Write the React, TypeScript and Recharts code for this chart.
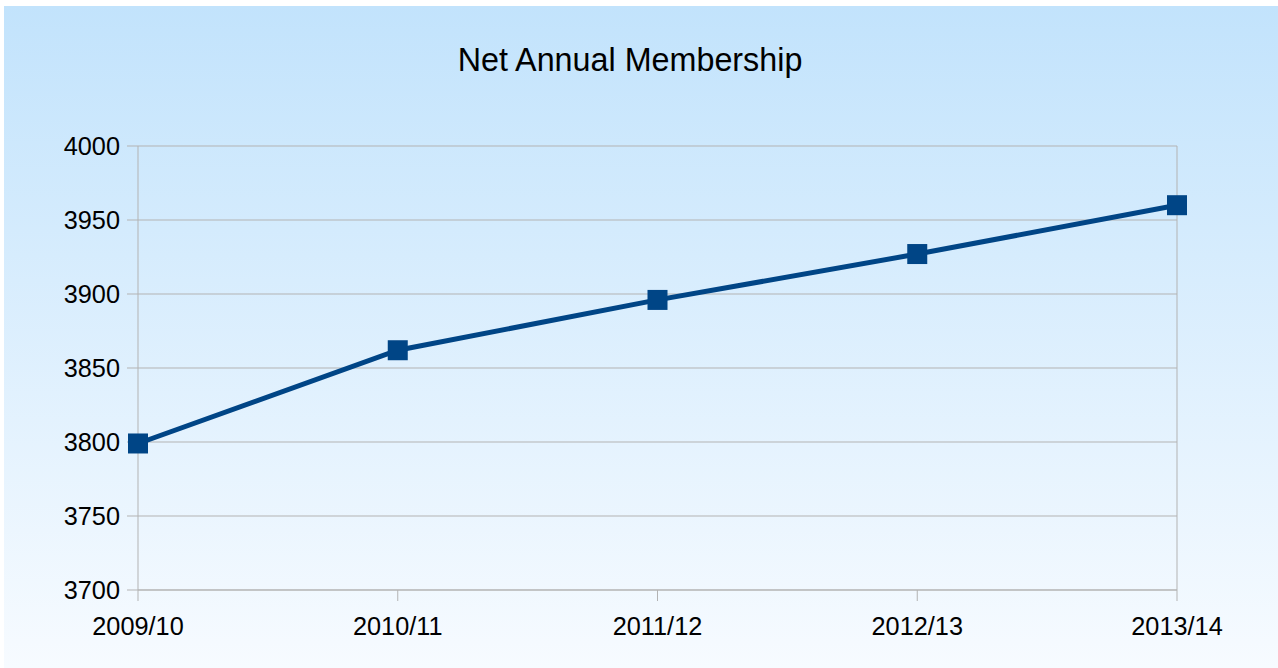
import React from 'react';
import { LineChart, Line, XAxis, YAxis, CartesianGrid, ReferenceLine } from 'recharts';

const seasons = ['2009/10', '2010/11', '2011/12', '2012/13', '2013/14'];
const members = [3799, 3862, 3896, 3927, 3960];
const yTicks = [3700, 3750, 3800, 3850, 3900, 3950, 4000];

const FONT = '"Liberation Sans", Arial, sans-serif';
const LINE_COLOR = '#004586';
const GRID_COLOR = '#b3b3b3';

const SquareDot = (props: any) => {
  const { cx, cy } = props;
  if (cx == null || cy == null) return null;
  return <rect x={cx - 10} y={cy - 10} width={20} height={20} fill={LINE_COLOR} />;
};

const App: React.FC = () => {
  const data = seasons.map((season, i) => ({ season, members: members[i] }));

  return (
    <div style={{ position: 'absolute', left: 0, top: 0, width: 1278, height: 668, background: '#fff' }}>
      <div
        style={{
          position: 'absolute',
          left: 4,
          top: 6,
          width: 1274,
          height: 662,
          background: 'linear-gradient(to bottom, #c2e3fc 0%, #f7fbff 100%)',
        }}
      >
        <div
          style={{
            position: 'absolute',
            left: 0,
            top: 38,
            width: 1252,
            textAlign: 'center',
            fontFamily: FONT,
            fontSize: 32.3,
            lineHeight: 1,
            color: '#000',
          }}
        >
          Net Annual Membership
        </div>
        <LineChart width={1274} height={662} data={data} margin={{ top: 140, right: 101, bottom: 48, left: 0 }}>
          <CartesianGrid vertical={false} stroke={GRID_COLOR} strokeWidth={1} />
          <ReferenceLine x={seasons[seasons.length - 1]} stroke={GRID_COLOR} strokeWidth={1} />
          <XAxis
            dataKey="season"
            height={30}
            stroke={GRID_COLOR}
            tickSize={11}
            tickMargin={16}
            tick={{ fill: '#000', fontSize: 25.3, fontFamily: FONT }}
            interval={0}
          />
          <YAxis
            domain={[3700, 4000]}
            ticks={yTicks}
            width={134}
            stroke={GRID_COLOR}
            tickSize={11}
            tickMargin={7}
            tick={{ fill: '#000', fontSize: 25.3, fontFamily: FONT }}
            interval={0}
          />
          <Line
            type="linear"
            dataKey="members"
            stroke={LINE_COLOR}
            strokeWidth={5}
            dot={<SquareDot />}
            activeDot={false}
            isAnimationActive={false}
          />
        </LineChart>
      </div>
    </div>
  );
};

export default App;
